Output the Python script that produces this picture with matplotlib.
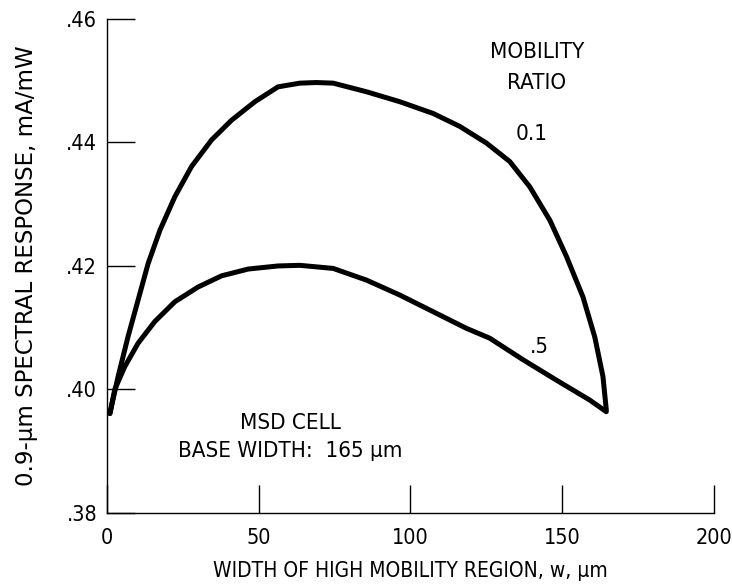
import numpy as np
import matplotlib
matplotlib.use("Agg")
import matplotlib.pyplot as plt

# spectral response vs width of high mobility region, two mobility ratios
w_ratio_01 = [1.0, 3.7, 7.0, 10.3, 13.6, 17.5, 22.4, 27.9, 34.5, 41.1, 48.8, 56.4,
              63.6, 69.0, 74.6, 85.6, 96.5, 107.5, 116.3, 125.1, 132.8, 139.4,
              146.0, 151.5, 156.9, 160.8, 163.5, 164.6]
resp_ratio_01 = [0.3961, 0.4021, 0.4086, 0.4145, 0.4204, 0.4258, 0.4312, 0.4361,
                 0.4404, 0.4436, 0.4466, 0.4490, 0.4496, 0.4497, 0.4496, 0.4482,
                 0.4466, 0.4447, 0.4426, 0.4399, 0.4369, 0.4328, 0.4274, 0.4215,
                 0.4150, 0.4085, 0.4021, 0.3967]

w_ratio_05 = [1.0, 2.6, 5.9, 10.3, 15.8, 22.4, 30.1, 37.8, 46.6, 56.4, 63.6, 74.6,
              85.6, 96.5, 107.5, 118.5, 126.2, 137.2, 148.2, 159.1, 164.6]
resp_ratio_05 = [0.3961, 0.4000, 0.4037, 0.4075, 0.4110, 0.4142, 0.4166, 0.4184,
                 0.4195, 0.4200, 0.4201, 0.4196, 0.4177, 0.4153, 0.4126, 0.4099,
                 0.4083, 0.4048, 0.4015, 0.3983, 0.3964]

x_ticks = [0, 50, 100, 150, 200]
y_ticks = [0.38, 0.40, 0.42, 0.44, 0.46]
y_tick_labels = [".38", ".40", ".42", ".44", ".46"]

plt.rcParams["font.family"] = "DejaVu Sans"
plt.rcParams["font.stretch"] = "condensed"

fig = plt.figure(figsize=(7.32, 5.84), dpi=100)
ax = fig.add_axes([0.146, 0.1216, 0.829, 0.846])

for xs, ys in [(w_ratio_01, resp_ratio_01), (w_ratio_05, resp_ratio_05)]:
    ax.plot(xs, ys, color="black", lw=3.6, solid_joinstyle="round",
            solid_capstyle="round")

ax.set_xlim(0, 200)
ax.set_ylim(0.38, 0.46)
ax.spines["top"].set_visible(False)
ax.spines["right"].set_visible(False)
ax.spines["left"].set_linewidth(1.0)
ax.spines["bottom"].set_linewidth(1.0)

ax.set_xticks(x_ticks)
ax.set_xticklabels([str(t) for t in x_ticks])
ax.set_yticks(y_ticks)
ax.set_yticklabels(y_tick_labels)
ax.tick_params(direction="in", length=20, width=1.0, labelsize=15.5)
ax.tick_params(axis="x", pad=11)
ax.tick_params(axis="y", pad=7)

ax.set_xlabel("WIDTH OF HIGH MOBILITY REGION, w, \u00b5m", fontsize=15, labelpad=9)
ax.set_ylabel("0.9-\u00b5m SPECTRAL RESPONSE, mA/mW", fontsize=16.5,
              fontstretch="normal", labelpad=20)

ax.text(141.7, 0.4547, "MOBILITY", ha="center", va="center", fontsize=16)
ax.text(141.7, 0.4496, "RATIO", ha="center", va="center", fontsize=16)
ax.text(140, 0.4414, "0.1", ha="center", va="center", fontsize=16)
ax.text(142.7, 0.4069, ".5", ha="center", va="center", fontsize=16)
ax.text(60.6, 0.3946, "MSD CELL", ha="center", va="center", fontsize=16)
ax.text(60.6, 0.3900, "BASE WIDTH:  165 \u00b5m", ha="center", va="center",
        fontsize=16)

fig.savefig("out.png", dpi=100)
